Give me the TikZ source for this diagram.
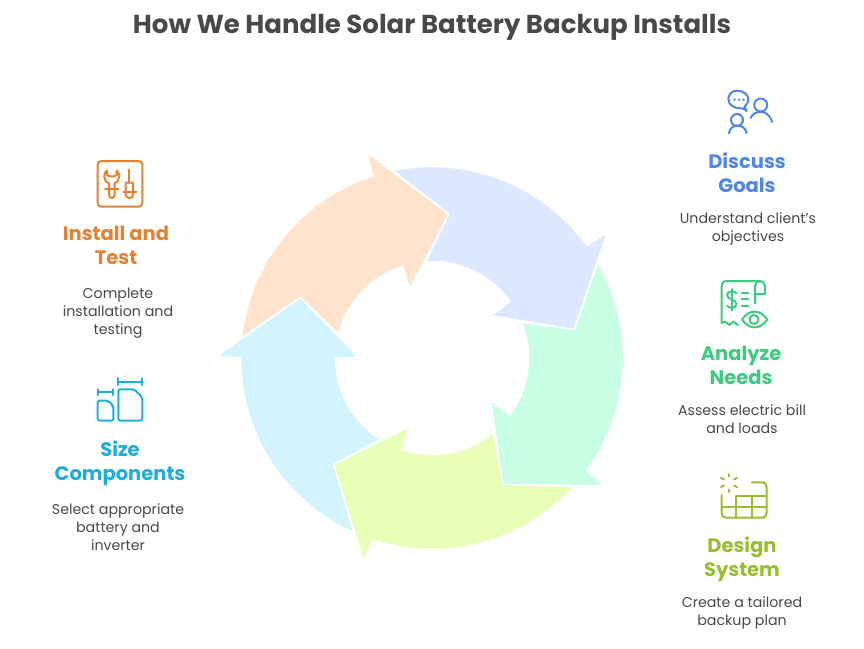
\documentclass[tikz,border=0pt]{standalone}
\usepackage{fontspec}
\setmainfont{Poppins}
\usetikzlibrary{positioning,calc}
\definecolor{ringcyan}{RGB}{209,244,255}
\definecolor{ringorange}{RGB}{255,227,204}
\definecolor{ringblue}{RGB}{220,232,255}
\definecolor{ringmint}{RGB}{200,255,228}
\definecolor{ringlime}{RGB}{232,255,184}
\definecolor{textcyan}{RGB}{30,173,220}
\definecolor{textorange}{RGB}{229,130,49}
\definecolor{textblue}{RGB}{79,134,236}
\definecolor{textmint}{RGB}{60,203,127}
\definecolor{textlime}{RGB}{151,191,47}
\definecolor{textgrey}{RGB}{72,72,72}
\tikzset{
	headlabel/.style={align=center,font=\fontsize{19.5}{24}\selectfont\bfseries,inner sep=0pt},
	desclabel/.style={align=center,text=textgrey,font=\fontsize{14.2}{18}\selectfont,inner sep=0pt},
	iconline/.style={line width=2pt,line cap=round,line join=round}
}
\begin{document}
\begin{tikzpicture}[x=1pt,y=-1pt]
	\path[use as bounding box] (0,0) rectangle (864,648);
	
	% Titolo
	\node[font=\fontsize{26}{30}\selectfont\bfseries,text=textgrey,inner sep=0pt] (title) at (432,27) {How We Handle Solar Battery Backup Installs};
	
	% Anello di frecce
	\foreach \ang/\col in {0/ringcyan,-72/ringorange,-144/ringblue,-216/ringmint,-288/ringlime}{
		\begin{scope}[shift={(432,358)},y=1pt,rotate=\ang]
			\fill[fill=\col,draw=white,line width=1.4pt,line join=miter]
				(245.9:191.5) arc[start angle=245.9,end angle=180,radius=191.5]
				-- (179.5:215) -- (155.3:145) -- (179.5:73) -- (180:96.5)
				arc[start angle=180,end angle=237.6,radius=96.5]
				-- (227.3:145) -- cycle;
		\end{scope}
	}
	
	% Discuss Goals
	\node[headlabel,text=textblue] (discussHead) at (747,173) {Discuss\\Goals};
	\node[desclabel] (discussDesc) at (748,229) {Understand client's\\objectives};
	\begin{scope}[iconline,draw=textblue]
		\draw (746.7,111) -- (744.5,106.6) .. controls (749,103) and (749.5,97) .. (746,94)
			.. controls (741,89.5) and (733,89.5) .. (730,94)
			.. controls (726,99) and (729,107) .. (738,108) .. controls (741,108.3) and (744,108) .. (746.7,111);
		\fill[textblue] (734.5,99.7) circle (1.3pt) (739,99.7) circle (1.3pt) (743.5,99.7) circle (1.3pt);
		\draw (760.7,105) circle (6.5);
		\draw (750.7,118) .. controls (754,109.5) and (768,108.5) .. (772.3,122);
		\draw (737,120) circle (6);
		\draw (729,133.3) .. controls (730,123) and (745,123) .. (746.7,133.3);
	\end{scope}
	
	% Analyze Needs
	\node[headlabel,text=textmint] (analyzeHead) at (741,365) {Analyze\\Needs};
	\node[desclabel] (analyzeDesc) at (742,419) {Assess electric bill\\and loads};
	\begin{scope}[iconline,draw=textmint]
		\draw (721.7,323) -- (721.7,287) .. controls (721.7,283) and (723.5,281) .. (726.7,281) -- (760,281);
		\draw (755,303.3) -- (755,286) .. controls (755,283) and (757.5,281) .. (760,281)
			.. controls (762.5,281) and (765,283) .. (765,286) -- (765,294) -- (755,294);
		\draw (721.7,323) -- (725,321.5) -- (729.5,325) -- (733,321.5) -- (738,325);
		\draw (742,319.5) .. controls (749,309) and (760,309) .. (767.3,319.5) .. controls (760,330) and (749,330) .. (742,319.5);
		\draw (754,319.5) circle (4.5);
		\draw (736.5,293.5) .. controls (735.5,290.5) and (727,290.5) .. (727,295) .. controls (727,300) and (736.5,299) .. (736.5,304) .. controls (736.5,309) and (727.5,308.5) .. (727,305.5);
		\draw (731.7,289) -- (731.7,310.7);
		\draw (741.7,292.7) -- (748.3,292.7) (741.7,299.3) -- (748.3,299.3) (741.7,306) -- (748.3,306);
	\end{scope}
	
	% Design System
	\node[headlabel,text=textlime] (designHead) at (742,559) {Design\\System};
	\node[desclabel] (designDesc) at (742,613) {Create a tailored\\backup plan};
	\begin{scope}[iconline,draw=textlime]
		\draw (729,474) -- (729,476.5) (729,489.5) -- (729,492);
		\draw (721,477.7) -- (724,479.5) (734,479.5) -- (737,477.7);
		\draw (721,487) -- (724,485.5) (734,485.5) -- (737,487);
		\draw (721.7,495) -- (721.7,513) .. controls (721.7,516) and (723,517.7) .. (726,517.7) -- (761.7,517.7)
			.. controls (765,517.7) and (766.7,516) .. (766.7,513) -- (766.7,487)
			.. controls (766.7,484) and (765,482.3) .. (761.7,482.3) -- (751.7,482.3);
		\draw (736,517.7) -- (736,495.7) -- (766.7,495.7);
		\draw (721.7,506.7) -- (766.7,506.7);
		\draw (751.7,495.7) -- (751.7,517.7);
	\end{scope}
	
	% Install and Test
	\node[headlabel,text=textorange] (installHead) at (116,245) {Install and\\Test};
	\node[desclabel] (installDesc) at (118,313) {Complete\\installation and\\testing};
	\begin{scope}[iconline,draw=textorange]
		\draw[rounded corners=3.5pt] (97.7,161) rectangle (142.3,206.7);
		\draw (107,170.5) .. controls (103,172) and (103,182) .. (109,183.5) -- (109,195)
			.. controls (109,199) and (114.5,199) .. (114.5,195) -- (114.5,183.5)
			.. controls (120,182) and (120.5,172) .. (116.5,170.5) -- (116.5,175)
			.. controls (115,177) and (108.5,177) .. (107,175) -- cycle;
		\draw (105,189.3) -- (118.5,189.3);
		\draw (129.3,169.5) -- (129.3,182.7);
		\draw (125.7,182.7) -- (133,182.7) -- (133,195) .. controls (133,199) and (125.7,199) .. (125.7,195) -- cycle;
		\draw (123.3,191.7) -- (136.7,191.7);
	\end{scope}
	
	% Size Components
	\node[headlabel,text=textcyan] (sizeHead) at (120,463) {Size\\Components};
	\node[desclabel] (sizeDesc) at (118,527) {Select appropriate\\battery and\\inverter};
	\begin{scope}[iconline,draw=textcyan]
		\draw[rounded corners=2pt] (97.7,420.7) -- (97.7,400.7) -- (108.3,400.7) -- (113.3,406) -- (113.3,420.7) -- cycle;
		\draw[rounded corners=2pt] (118.3,420.7) -- (118.3,389.3) -- (134.3,389.3) -- (142.3,397.3) -- (142.3,420.7) -- cycle;
		\draw (97.7,389.3) -- (97.7,395) (97.7,392.3) -- (113.3,392.3) (113.3,389.3) -- (113.3,395);
		\draw (118.3,378.3) -- (118.3,385) (118.3,381.7) -- (142.3,381.7) (142.3,378.3) -- (142.3,385);
	\end{scope}
\end{tikzpicture}
\end{document}
